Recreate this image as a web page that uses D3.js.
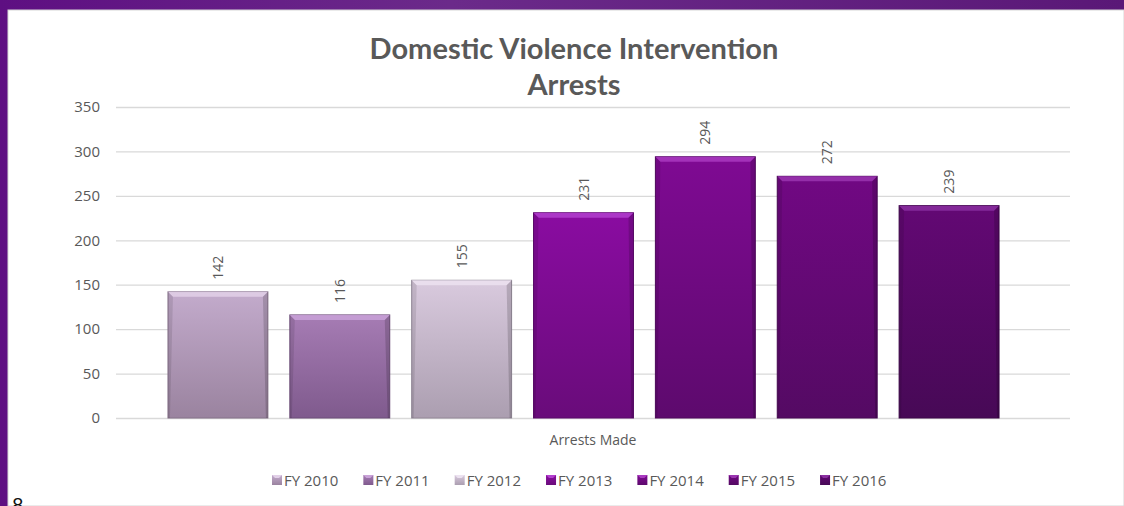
<!DOCTYPE html>
<html>
<head>
<meta charset="utf-8">
<script src="https://cdn.jsdelivr.net/npm/d3@7"></script>
<style>
  html, body { margin: 0; padding: 0; background: #fff; }
  svg { display: block; font-family: Lato, "Open Sans", sans-serif; }
</style>
</head>
<body>
<svg id="chart" width="1124" height="506"></svg>
<script>
// chart data
const series = ["FY 2010", "FY 2011", "FY 2012", "FY 2013", "FY 2014", "FY 2015", "FY 2016"];
const values = [142, 116, 155, 231, 294, 272, 239];
const yTicks = [0, 50, 100, 150, 200, 250, 300, 350];
const category = "Arrests Made";

// colours per bar: top of gradient, bottom of gradient, bevel highlight
const topCol = ["#c3abcc", "#a67cb4", "#d9cade", "#8a0ca1", "#7f0a93", "#710883", "#630874"];
const botCol = ["#9a839f", "#7f5a8d", "#ab9eb0", "#690c7a", "#5d0a6d", "#540a63", "#470956"];
const hiCol  = ["#e2d0e8", "#c9a2d8", "#ece2f0", "#b23fce", "#a93ac0", "#9a35b0", "#8a2fa0"];

const svg = d3.select("#chart");
const W = 1124, H = 506;

// purple frame around the white panel
const defs = svg.append("defs");
const frame = defs.append("linearGradient").attr("id", "frame")
  .attr("x1", 0).attr("x2", 1).attr("y1", 0).attr("y2", 0);
frame.append("stop").attr("offset", "0%").attr("stop-color", "#5e0f82");
frame.append("stop").attr("offset", "40%").attr("stop-color", "#6b2a8a");
frame.append("stop").attr("offset", "100%").attr("stop-color", "#5a1877");
svg.append("rect").attr("width", W).attr("height", H).attr("fill", "url(#frame)");
svg.append("rect").attr("x", 8).attr("y", 10).attr("width", W - 8).attr("height", H - 10)
  .attr("fill", "#fff").attr("stroke", "#d6d6d6").attr("stroke-width", 1);

const margin = { left: 116, right: 54, top: 107, bottom: 88 };
const plotW = W - margin.left - margin.right;

const y = d3.scaleLinear().domain([0, 350]).range([418, 107]);
const x = d3.scaleBand().domain(series).range([157, 1010])
  .paddingInner(0.18).paddingOuter(0.09);

// gridlines + y axis
const yAxis = d3.axisLeft(y).tickValues(yTicks).tickSize(-plotW).tickPadding(16);
const gy = svg.append("g").attr("transform", `translate(${margin.left},0)`).call(yAxis);
gy.select(".domain").remove();
gy.selectAll(".tick line").attr("stroke", "#d9d9d9").attr("stroke-width", 1.3);
gy.selectAll(".tick text").attr("fill", "#595959").attr("font-size", 15)
  .attr("font-family", "'Open Sans', sans-serif");

// bar gradients
series.forEach((s, i) => {
  const g = defs.append("linearGradient").attr("id", "bar" + i)
    .attr("x1", 0).attr("x2", 0).attr("y1", 0).attr("y2", 1);
  g.append("stop").attr("offset", "0%").attr("stop-color", topCol[i]);
  g.append("stop").attr("offset", "100%").attr("stop-color", botCol[i]);
});

const bars = svg.append("g").selectAll("g.bar")
  .data(values)
  .join("g").attr("class", "bar");

bars.append("rect")
  .attr("x", (d, i) => x(series[i]))
  .attr("y", d => y(d))
  .attr("width", x.bandwidth())
  .attr("height", d => y(0) - y(d))
  .attr("fill", (d, i) => `url(#bar${i})`)
  .attr("stroke", (d, i) => d3.color(botCol[i]).darker(0.4))
  .attr("stroke-width", 1);

// bevel highlight on top edge
bars.append("path")
  .attr("d", (d, i) => {
    const x0 = x(series[i]), x1 = x0 + x.bandwidth(), t = y(d), b = 5;
    return `M${x0},${t}L${x1},${t}L${x1 - b},${t + b}L${x0 + b},${t + b}Z`;
  })
  .attr("fill", (d, i) => hiCol[i])
  .attr("opacity", 0.85);

// side shading
bars.append("path")
  .attr("d", (d, i) => {
    const x0 = x(series[i]), t = y(d), b = 5;
    return `M${x0},${t}L${x0 + b},${t + b}L${x0 + 2},${y(0)}L${x0},${y(0)}Z`;
  })
  .attr("fill", "#000").attr("opacity", 0.1);
bars.append("path")
  .attr("d", (d, i) => {
    const x1 = x(series[i]) + x.bandwidth(), t = y(d), b = 5;
    return `M${x1},${t}L${x1 - b},${t + b}L${x1 - 2},${y(0)}L${x1},${y(0)}Z`;
  })
  .attr("fill", "#000").attr("opacity", 0.16);

// value labels, rotated
bars.append("text")
  .attr("transform", (d, i) => `translate(${x(series[i]) + x.bandwidth() / 2 + 5},${y(d) - 12}) rotate(-90)`)
  .attr("fill", "#595959")
  .attr("font-size", 14)
  .attr("font-family", "'Open Sans', sans-serif")
  .text(d => d);

// title
svg.append("text").attr("x", 574).attr("y", 59).attr("text-anchor", "middle")
  .attr("font-size", 29).attr("font-weight", "bold").attr("fill", "#595959")
  .text("Domestic Violence Intervention");
svg.append("text").attr("x", 574).attr("y", 95).attr("text-anchor", "middle")
  .attr("font-size", 29).attr("font-weight", "bold").attr("fill", "#595959")
  .text("Arrests");

// category label
svg.append("text").attr("x", 593).attr("y", 445).attr("text-anchor", "middle")
  .attr("font-size", 14).attr("fill", "#595959")
  .attr("font-family", "'Open Sans', sans-serif")
  .text(category);

// legend
const legend = svg.append("g").attr("transform", "translate(272,486)");
let lx = 0;
series.forEach((s, i) => {
  const item = legend.append("g").attr("transform", `translate(${lx},0)`);
  item.append("rect").attr("x", 0).attr("y", -11).attr("width", 10).attr("height", 10)
    .attr("fill", `url(#bar${i})`);
  item.append("path").attr("d", "M0,-11L10,-11L7,-8L3,-8Z").attr("fill", hiCol[i]);
  const t = item.append("text").attr("x", 12).attr("y", 0)
    .attr("font-size", 15).attr("fill", "#595959")
    .attr("font-family", "'Open Sans', sans-serif")
    .text(s);
  lx += 12 + t.node().getComputedTextLength() + 25;
});

// stray page number at the bottom left of the slide
svg.append("text").attr("x", 12).attr("y", 512).attr("font-size", 20)
  .attr("fill", "#111").text("8");
</script>
</body>
</html>
